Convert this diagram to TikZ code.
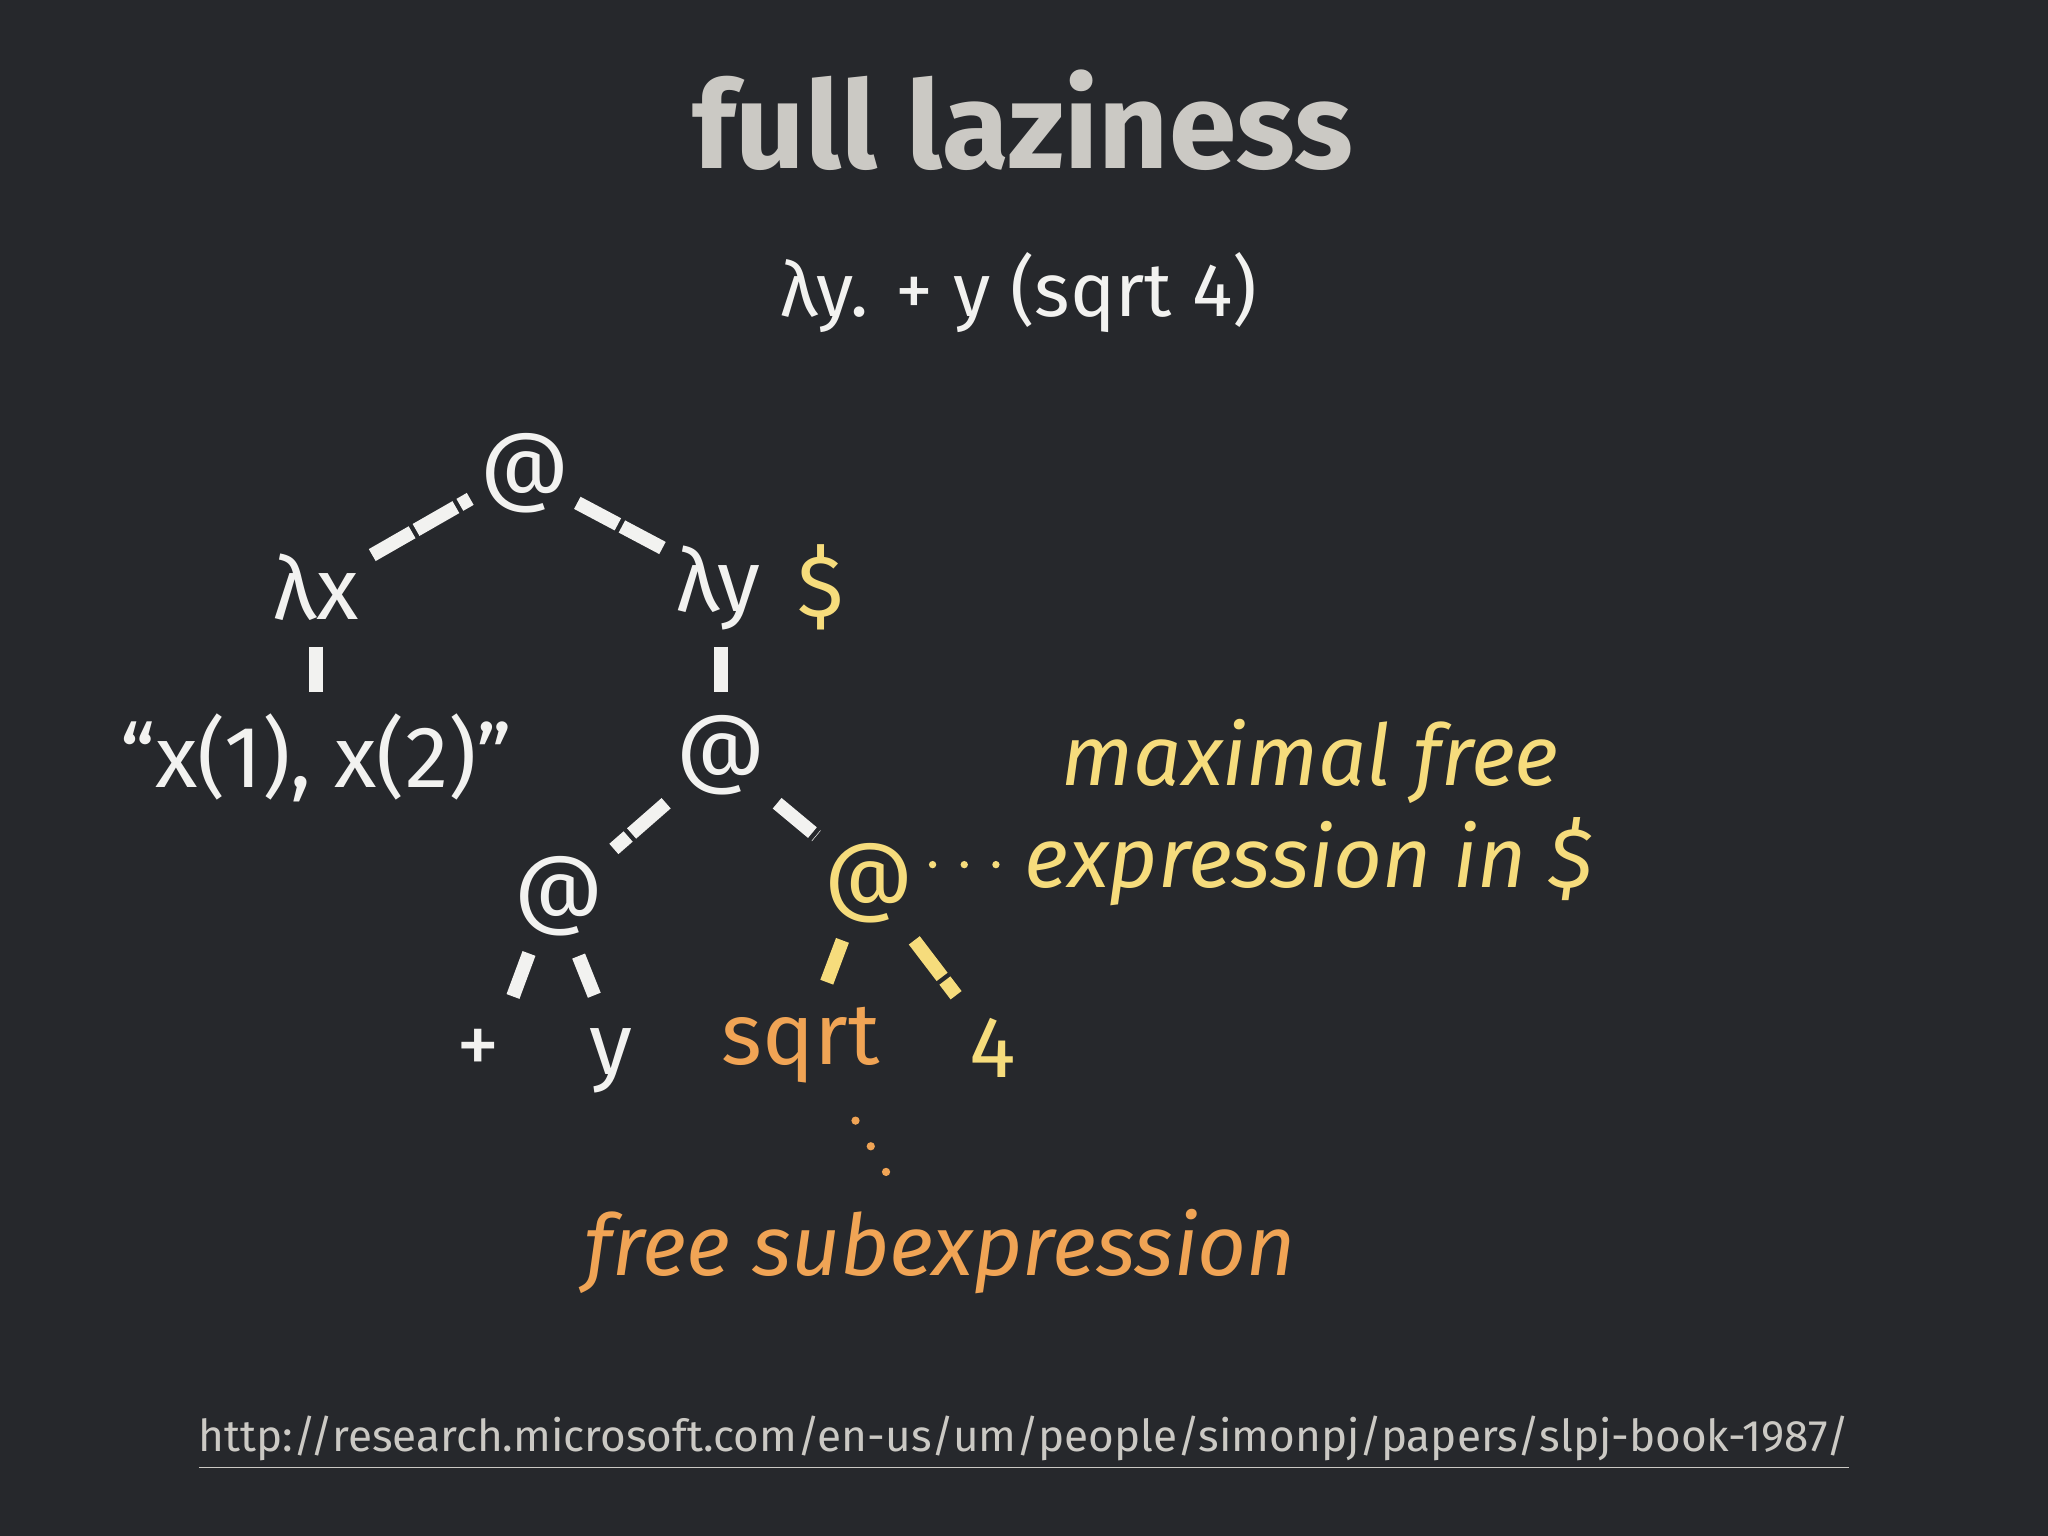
\documentclass[tikz,border=0pt]{standalone}
\usepackage{fontspec}
\setmainfont{Fira Sans}
\begin{document}
\begin{tikzpicture}[x=1cm,y=1cm,
  t/.style={text=chalk,font=\fontsize{19}{22}\selectfont,inner sep=2pt},
  ch/.style={draw=chalk,line width=3pt,dash pattern=on 10pt off 1pt},
  chy/.style={ch,draw=yel}]
\definecolor{bg}{HTML}{26282C}
\definecolor{chalk}{HTML}{F2F2F0}
\definecolor{yel}{HTML}{F6DC7C}
\definecolor{org}{HTML}{F0A455}
\definecolor{ttl}{HTML}{CBC9C4}
\fill[bg] (0,0) rectangle (15.68,11.76);
\useasboundingbox (0,0) rectangle (15.68,11.76);
\node[text=ttl,font=\bfseries\fontsize{26.5}{30}\selectfont] (title) at (7.83,10.84) {full laziness};
\node[text=chalk,font=\fontsize{16.5}{19}\selectfont] (sub) at (7.80,9.52) {λy. + y (sqrt 4)};
\node[t] (a1) at (4.02,8.14) {@};
\node[t] (lx) at (2.42,7.26) {λx};
\node[t] (ly) at (5.50,7.26) {λy};
\node[t,text=yel] (dol) at (6.28,7.26) {\$};
\node[t] (str) at (2.42,5.96) {“x(1), x(2)”};
\node[t] (a2) at (5.52,5.98) {@};
\node[t] (a3) at (4.28,4.90) {@};
\node[t,text=yel] (a4) at (6.65,5.00) {@};
\node[t] (plus) at (3.66,3.71) {+};
\node[t] (y) at (4.68,3.64) {y};
\node[t,text=org] (sqrt) at (6.13,3.76) {sqrt};
\node[t,text=yel] (four) at (7.60,3.74) {4};
\node[t,text=yel,font=\itshape\fontsize{18.5}{22}\selectfont] (m1) at (10.03,5.93) {maximal free};
\node[t,text=yel,font=\itshape\fontsize{18.5}{22}\selectfont] (m2) at (10.02,5.16) {expression in \$};
\node[t,text=org,font=\itshape\fontsize{18.5}{22}\selectfont] (fs) at (7.20,2.18) {free subexpression};
\node[text=ttl,font=\fontsize{9.6}{12}\selectfont] (url) at (7.84,0.71) {\underline{http://research.microsoft.com/en-us/um/people/simonpj/papers/slpj-book-1987/}};
\coordinate (e1a) at (2.85,7.51); \coordinate (e1b) at (3.60,7.94);
\coordinate (e2a) at (4.42,7.91); \coordinate (e2b) at (5.08,7.56);
\coordinate (e3a) at (2.42,6.81); \coordinate (e3b) at (2.42,6.44);
\coordinate (e4a) at (5.52,6.81); \coordinate (e4b) at (5.52,6.46);
\coordinate (e5a) at (5.10,5.61); \coordinate (e5b) at (4.70,5.26);
\coordinate (e6a) at (5.95,5.61); \coordinate (e6b) at (6.25,5.36);
\coordinate (e7a) at (4.05,4.46); \coordinate (e7b) at (3.92,4.11);
\coordinate (e8a) at (4.43,4.44); \coordinate (e8b) at (4.55,4.14);
\coordinate (e9a) at (6.45,4.56); \coordinate (e9b) at (6.33,4.24);
\coordinate (e10a) at (7.00,4.56); \coordinate (e10b) at (7.32,4.14);
\draw[ch] (e1a) -- (e1b);
\draw[ch] (e2a) -- (e2b);
\draw[ch] (e3a) -- (e3b);
\draw[ch] (e4a) -- (e4b);
\draw[ch] (e5a) -- (e5b);
\draw[ch] (e6a) -- (e6b);
\draw[ch] (e7a) -- (e7b);
\draw[ch] (e8a) -- (e8b);
\draw[chy] (e9a) -- (e9b);
\draw[chy] (e10a) -- (e10b);
\coordinate (d1) at (7.14,5.14); \coordinate (d2) at (7.64,5.14);
\draw[yel,line width=1.6pt,dash pattern=on 0pt off 6.9pt,line cap=round] (d1) -- (d2);
\coordinate (s1) at (6.55,3.18); \coordinate (s2) at (6.80,2.76);
\draw[org,line width=1.8pt,dash pattern=on 0pt off 6.5pt,line cap=round] (s1) -- (s2);
\end{tikzpicture}
\end{document}
